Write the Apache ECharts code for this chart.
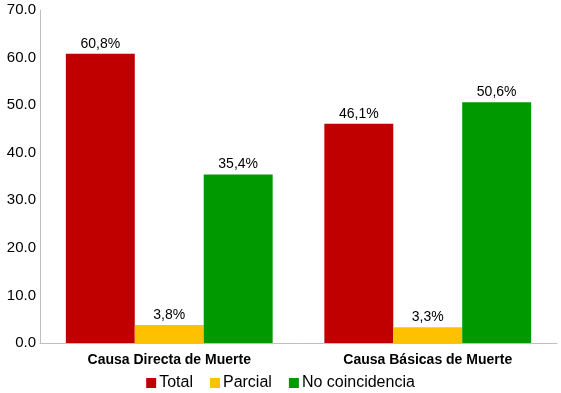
<!DOCTYPE html>
<html><head><meta charset="utf-8">
<script src="https://cdn.jsdelivr.net/npm/echarts@6/dist/echarts.min.js"></script>
<style>html,body{margin:0;padding:0;background:#fff}#c{width:561px;height:393px}</style>
</head><body><div id="c"></div>
<script>
var categories = ['Causa Directa de Muerte', 'Causa Básicas de Muerte'];
var totalVals = [60.8, 46.1];
var parcialVals = [3.8, 3.3];
var noCoinVals = [35.4, 50.6];
var seriesNames = ['Total', 'Parcial', 'No coincidencia'];
var colors = ['#C00000', '#FFC000', '#009900'];

var chart = echarts.init(document.getElementById('c'));
var fontFam = '"Liberation Sans", Arial, sans-serif';
function mk(name, data, color) {
  return {
    name: name, type: 'bar', data: data, barGap: '0%', barCategoryGap: '20%',
    itemStyle: { color: color },
    label: { show: true, position: 'top', distance: 3, color: '#000', fontSize: 14, fontFamily: fontFam,
      formatter: function (p) { return p.value.toFixed(1).replace('.', ',') + '%'; } }
  };
}
chart.setOption({
  animation: false,
  textStyle: { fontFamily: fontFam },
  grid: { left: 40, right: 4, top: 10, bottom: 50, containLabel: false },
  legend: {
    data: seriesNames, bottom: -3, left: 'center', itemWidth: 10, itemHeight: 10, itemGap: 17,
    icon: 'rect', textStyle: { fontSize: 16, color: '#000', fontFamily: fontFam, padding: [0, 0, 0, -2] }
  },
  xAxis: {
    type: 'category', data: categories,
    axisLine: { lineStyle: { color: '#BFBFBF' } }, axisTick: { show: false },
    axisLabel: { color: '#000', fontWeight: 'bold', fontSize: 14, margin: 10, fontFamily: fontFam }
  },
  yAxis: {
    type: 'value', min: 0, max: 70, interval: 10,
    axisLine: { show: true, lineStyle: { color: '#BFBFBF' } }, axisTick: { show: false },
    splitLine: { show: false },
    axisLabel: { color: '#000', fontSize: 15, margin: 4, fontFamily: fontFam,
      formatter: function (v) { return v.toFixed(1); } }
  },
  series: [mk(seriesNames[0], totalVals, colors[0]), mk(seriesNames[1], parcialVals, colors[1]), mk(seriesNames[2], noCoinVals, colors[2])]
});
</script></body></html>
